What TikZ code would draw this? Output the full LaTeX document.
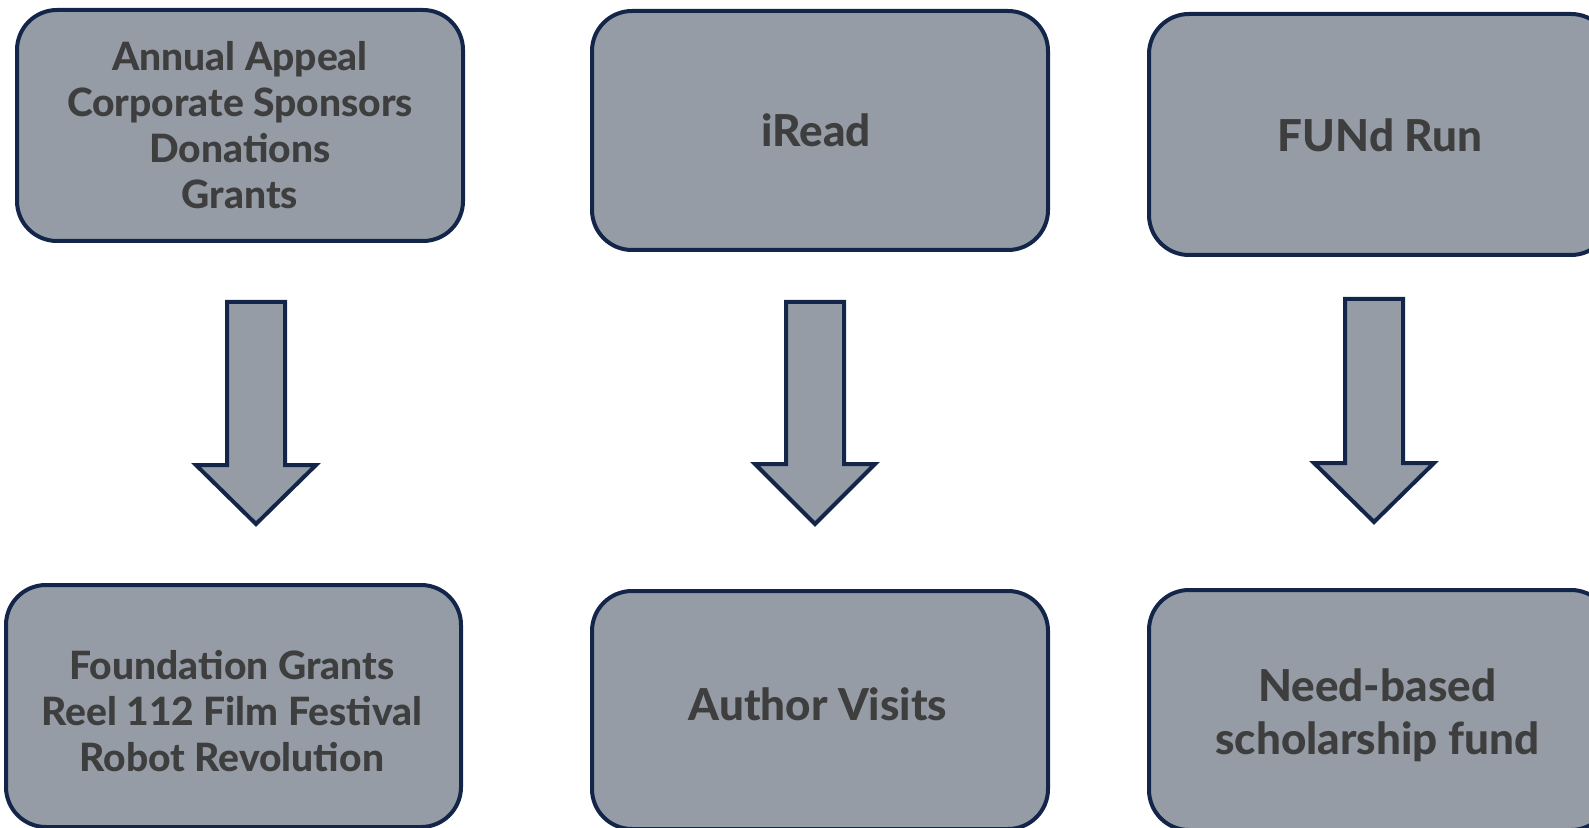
\documentclass[tikz,border=0pt]{standalone}
\usepackage{fontspec}
\setmainfont{Lato}[BoldFont={Lato Heavy}]
\definecolor{edge}{HTML}{13264A}
\definecolor{boxfill}{HTML}{959CA6}
\definecolor{txt}{HTML}{3E3E3E}
\newcommand\blockarrow[4]{%
  \draw[barrow] ({#1-29},#2) -- ({#1+29},#2) -- ({#1+29},#3) -- ({#1+60},#3)
    -- (#1,#4) -- ({#1-60},#3) -- ({#1-29},#3) -- cycle;}
\begin{document}
\begin{tikzpicture}[x=0.5pt,y=-0.5pt,
  box/.style={draw=edge, fill=boxfill, line width=2pt, rounded corners=20pt, inner sep=0pt},
  lbl/.style={align=center, text=txt, inner sep=0pt},
  small/.style={font=\bfseries\fontsize{19.5}{23}\selectfont},
  big/.style={font=\bfseries\fontsize{22}{26.5}\selectfont},
  barrow/.style={draw=edge, fill=boxfill, line width=2pt, line join=miter}]
\useasboundingbox (0,0) rectangle (1589,828);
\clip (0,0) rectangle (1589,828);
% boxes
\node[box, minimum width=223pt, minimum height=115.5pt] (n1) at (240,125.5) {};
\node[box, minimum width=228pt, minimum height=119.5pt] (n2) at (820,130.5) {};
\node[box, minimum width=231pt, minimum height=120.5pt] (n3) at (1380,134.5) {};
\node[box, minimum width=227.5pt, minimum height=121pt] (n4) at (233.5,706) {};
\node[box, minimum width=228pt, minimum height=119pt] (n5) at (820,710) {};
\node[box, minimum width=231pt, minimum height=120pt] (n6) at (1380,710) {};
% texts
\node[lbl, small] (t1) at (n1.center) {Annual Appeal\\Corporate Sponsors\\Donations\\Grants};
\node[lbl, big] (t2) at ([xshift=-2pt]n2.center) {iRead};
\node[lbl, big] (t3) at ([yshift=-0.5pt]n3.center) {FUNd Run};
\node[lbl, small] (t4) at ([xshift=-0.8pt,yshift=-2.5pt]n4.center) {Foundation Grants\\Reel 112 Film Festival\\Robot Revolution};
\node[lbl, big] (t5) at ([xshift=-1pt,yshift=3pt]n5.center) {Author Visits};
\node[lbl, big] (t6) at ([xshift=-1.4pt,yshift=-2.7pt]n6.center) {Need-based\\scholarship fund};
% arrows
\blockarrow{256}{302}{465}{524}
\blockarrow{815}{302}{464}{524}
\blockarrow{1374}{299}{463}{522}
\end{tikzpicture}
\end{document}
